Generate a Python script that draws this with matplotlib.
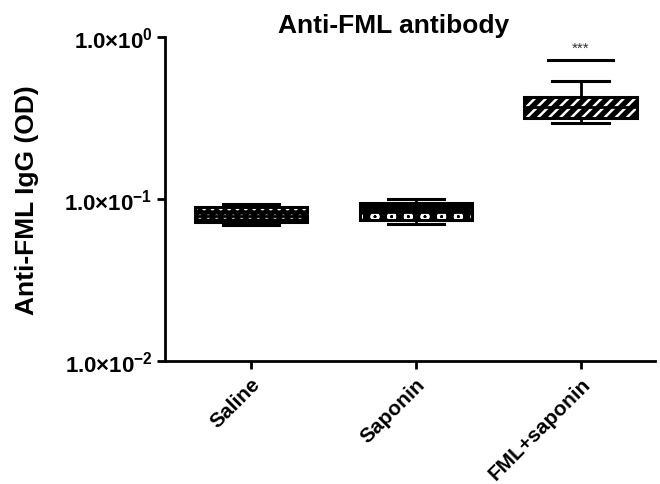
import matplotlib.pyplot as plt
import matplotlib.ticker as mticker

# box statistics (OD values)
groups = ['Saline', 'Saponin', 'FML+saponin']
whislo = [0.069, 0.070, 0.294]
q1 = [0.0721, 0.074, 0.316]
med = [0.078, 0.083, 0.37]
q3 = [0.0893, 0.0945, 0.426]
whishi = [0.093, 0.100, 0.535]
hatches = ['..', 'o', '///']

sig_y = 0.72
sig_text = '***'
yticks = [0.01, 0.1, 1.0]
ytick_labels = [r'$\mathbf{1.0{\times}10^{-2}}$',
                r'$\mathbf{1.0{\times}10^{-1}}$',
                r'$\mathbf{1.0{\times}10^{0}}$']

plt.rcParams['font.family'] = ['Liberation Sans', 'DejaVu Sans']
plt.rcParams['mathtext.fontset'] = 'custom'
plt.rcParams['mathtext.rm'] = 'Liberation Sans'
plt.rcParams['mathtext.bf'] = 'Liberation Sans:bold'
plt.rcParams['hatch.linewidth'] = 1.8

fig = plt.figure(figsize=(6.6, 4.85), dpi=100)
ax = fig.add_axes([0.25, 0.2536, 0.742, 0.668])

stats = []
for i, g in enumerate(groups):
    stats.append({'label': g, 'whislo': whislo[i], 'q1': q1[i], 'med': med[i],
                  'q3': q3[i], 'whishi': whishi[i], 'fliers': []})

pos = list(range(1, len(groups) + 1))
bp = ax.bxp(stats, positions=pos, widths=0.68, patch_artist=True,
            showfliers=False,
            boxprops=dict(facecolor='black', edgecolor='white', linewidth=0),
            whiskerprops=dict(color='black', linewidth=2),
            capprops=dict(color='black', linewidth=2.2),
            medianprops=dict(color='black', linewidth=2),
            capwidths=0.34)
for b, h in zip(bp['boxes'], hatches):
    b.set_hatch(h)
# black outline on top of the hatched boxes
ax.bxp(stats, positions=pos, widths=0.68, patch_artist=True, showfliers=False,
       showcaps=False,
       boxprops=dict(facecolor='none', edgecolor='black', linewidth=2.2),
       whiskerprops=dict(linewidth=0), medianprops=dict(linewidth=0))

# significance bar
ax.plot([2.8, 3.2], [sig_y, sig_y], color='black', lw=2.2)
ax.text(3, sig_y * 1.08, sig_text, ha='center', va='bottom', fontsize=11,
        color='#333333')

ax.set_yscale('log')
ax.set_ylim(0.01, 1.0)
ax.set_xlim(0.48, 3.45)
ax.yaxis.set_major_locator(mticker.FixedLocator(yticks))
ax.yaxis.set_minor_locator(mticker.NullLocator())
ax.set_yticklabels(ytick_labels, fontsize=16)
ax.set_xticks(pos)
ax.set_xticklabels(groups, rotation=45, ha='right', rotation_mode='anchor',
                   fontweight='bold', fontsize=15)

for s in ['top', 'right']:
    ax.spines[s].set_visible(False)
for s in ['left', 'bottom']:
    ax.spines[s].set_linewidth(2)
ax.tick_params(width=2, length=6, direction='out')
ax.tick_params(axis='y', pad=3)

ax.set_ylabel('Anti-FML IgG (OD)', fontweight='bold', fontsize=19, labelpad=18)
ax.set_title('Anti-FML antibody', fontweight='bold', fontsize=19, x=0.467,
             pad=-2)

fig.savefig('out.png', dpi=100)
